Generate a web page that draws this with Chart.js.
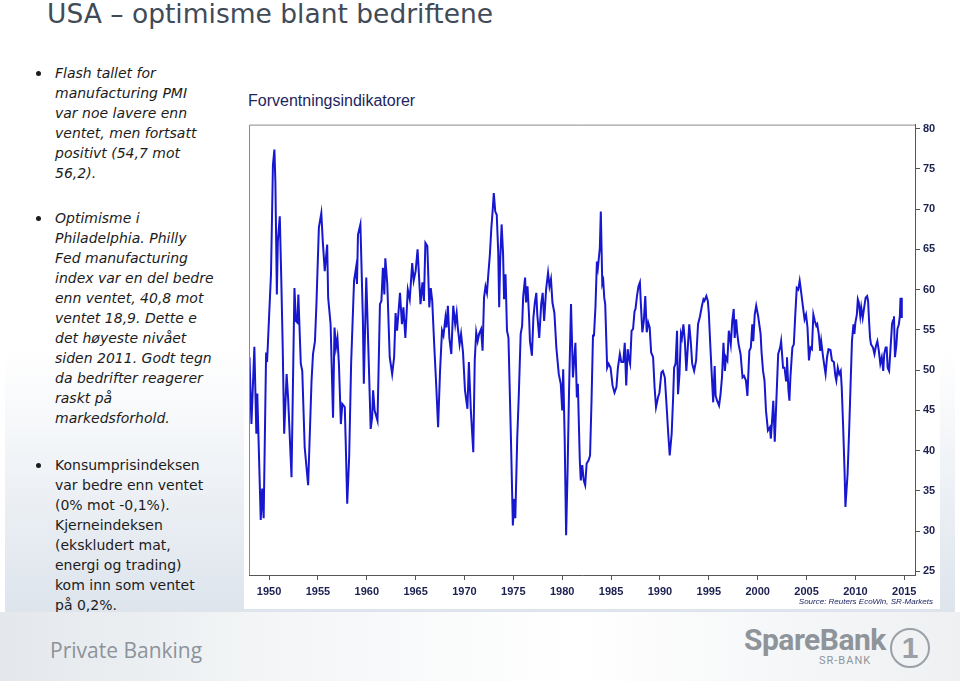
<!DOCTYPE html>
<html>
<head>
<meta charset="utf-8">
<script src="https://cdn.jsdelivr.net/npm/chart.js@4.4.1/dist/chart.umd.min.js"></script>
<style>
  html, body { margin: 0; padding: 0; }
  body { width: 960px; height: 681px; position: relative; overflow: hidden; background: #fff;
         font-family: "DejaVu Sans", Verdana, sans-serif; }
  #title { position: absolute; left: 47px; top: -2px; font-size: 26.5px; color: #414b58; white-space: nowrap; }
  #panel { position: absolute; left: 5px; top: 30px; width: 950px; height: 582px;
           background: linear-gradient(to bottom, #ffffff 0%, #ffffff 55%, #dde4ec 100%); }
  #chartbox { position: absolute; left: 244px; top: 86px; width: 696px; height: 523px; background: #fff; }
  .bul { position: absolute; left: 55px; font-size: 14px; line-height: 20px; color: #1c1c1c; white-space: nowrap; }
  .bul::before { content: ""; position: absolute; left: -19px; top: 8px; width: 5px; height: 5px;
                 border-radius: 50%; background: #1c1c1c; }
  .it { font-style: italic; }
  #ctitle { position: absolute; left: 248px; top: 92px; font-family: "Liberation Sans", Arial, sans-serif;
            font-size: 16px; color: #1d2660; white-space: nowrap; }
  #src { position: absolute; right: 27px; top: 597px; font-family: "Liberation Sans", Arial, sans-serif;
         font-size: 8px; font-style: italic; color: #1d2660; }
  #wrap { position: absolute; left: 245px; top: 115px; width: 700px; height: 500px; }
  #footer { position: absolute; left: 0; top: 612px; width: 960px; height: 69px;
            background: linear-gradient(to right, #e4e8ec 0%, #f4f6f7 30%, #ffffff 60%, #eef0f2 100%); }
  #pb { position: absolute; left: 50px; top: 636px; font-family: "Open Sans", sans-serif; font-size: 21px;
        color: #8c939b; white-space: nowrap; }
  #sb { position: absolute; left: 744px; top: 622px; font-family: "Liberation Sans Narrow", "Roboto", sans-serif;
        font-size: 30px; font-weight: bold; color: #8e949a; letter-spacing: -0.5px; white-space: nowrap; }
  #srb { position: absolute; left: 819px; top: 654px; font-family: "Roboto", sans-serif; font-size: 11px;
         color: #8e949a; letter-spacing: 1px; white-space: nowrap; }
  #logo { position: absolute; left: 890px; top: 628px; width: 36px; height: 36px; border-radius: 50%;
          border: 2px solid #9aa0a6; font-family: "Liberation Sans", sans-serif; font-weight: bold;
          font-size: 30px; color: #9aa0a6; text-align: center; line-height: 36px; }
</style>
</head>
<body>
<div id="panel"></div>
<div id="chartbox"></div>
<div id="title">USA – optimisme blant bedriftene</div>

<div class="bul it" style="top:63px">Flash tallet for<br>manufacturing PMI<br>var noe lavere enn<br>ventet, men fortsatt<br>positivt (54,7 mot<br>56,2).</div>
<div class="bul it" style="top:208px">Optimisme i<br>Philadelphia. Philly<br>Fed manufacturing<br>index var en del bedre<br>enn ventet, 40,8 mot<br>ventet 18,9. Dette e<br>det høyeste nivået<br>siden 2011. Godt tegn<br>da bedrifter reagerer<br>raskt på<br>markedsforhold.</div>
<div class="bul" style="top:455px">Konsumprisindeksen<br>var bedre enn ventet<br>(0% mot -0,1%).<br>Kjerneindeksen<br>(ekskludert mat,<br>energi og trading)<br>kom inn som ventet<br>på 0,2%.</div>

<div id="ctitle">Forventningsindikatorer</div>
<div id="wrap"><canvas id="chart" width="700" height="500"></canvas></div>
<div id="src">Source: Reuters EcoWin, SR-Markets</div>

<div id="footer"></div>
<div id="pb">Private Banking</div>
<div id="sb">SpareBank</div>
<div id="srb">SR-BANK</div>
<div id="logo">1</div>

<script>
// ISM manufacturing PMI (decimal year, index)
const years = [
  1948.0, 1948.2, 1948.5, 1948.7, 1948.8, 1949.15, 1949.3, 1949.45, 1949.7, 1949.8,
  1950.0, 1950.2, 1950.4, 1950.55, 1950.65, 1950.8, 1950.9, 1951.1, 1951.25, 1951.4,
  1951.55, 1951.8, 1951.95, 1952.3, 1952.6, 1952.75, 1952.9, 1953.0, 1953.25, 1953.4,
  1953.65, 1954.0, 1954.35, 1954.5, 1954.7, 1954.85, 1955.0, 1955.1, 1955.35, 1955.5,
  1955.7, 1955.95, 1956.05, 1956.3, 1956.55, 1956.7, 1956.85, 1957.0, 1957.15, 1957.35,
  1957.5, 1957.75, 1957.85, 1958.0, 1958.2, 1958.4, 1958.7, 1958.9, 1959.0, 1959.1,
  1959.35, 1959.6, 1959.7, 1959.95, 1960.2, 1960.4, 1960.55, 1960.65, 1960.8, 1961.1,
  1961.35, 1961.5, 1961.65, 1961.8, 1961.9, 1962.1, 1962.35, 1962.6, 1962.8, 1962.95,
  1963.1, 1963.4, 1963.6, 1963.75, 1963.95, 1964.2, 1964.4, 1964.65, 1964.8, 1965.0,
  1965.2, 1965.5, 1965.7, 1965.85, 1966.0, 1966.2, 1966.4, 1966.55, 1966.7, 1966.9,
  1967.1, 1967.3, 1967.5, 1967.7, 1967.85, 1968.05, 1968.15, 1968.3, 1968.45, 1968.65,
  1968.85, 1969.05, 1969.2, 1969.3, 1969.5, 1969.65, 1969.85, 1970.05, 1970.3, 1970.45,
  1970.65, 1970.9, 1971.05, 1971.2, 1971.35, 1971.5, 1971.7, 1971.85, 1972.0, 1972.15,
  1972.3, 1972.4, 1972.6, 1972.75, 1972.9, 1973.0, 1973.15, 1973.3, 1973.45, 1973.55,
  1973.65, 1973.8, 1973.95, 1974.05, 1974.2, 1974.35, 1974.5, 1974.75, 1974.95, 1975.1,
  1975.2, 1975.4, 1975.55, 1975.75, 1975.9, 1976.0, 1976.2, 1976.3, 1976.45, 1976.6,
  1976.7, 1976.9, 1977.05, 1977.2, 1977.35, 1977.45, 1977.65, 1977.85, 1978.0, 1978.15,
  1978.35, 1978.55, 1978.7, 1978.85, 1979.0, 1979.2, 1979.4, 1979.65, 1979.85, 1980.0,
  1980.1, 1980.25, 1980.4, 1980.55, 1980.7, 1980.9, 1981.1, 1981.2, 1981.35, 1981.5,
  1981.6, 1981.8, 1981.9, 1982.05, 1982.2, 1982.35, 1982.5, 1982.7, 1982.85, 1983.0,
  1983.15, 1983.25, 1983.4, 1983.55, 1983.65, 1983.85, 1983.95, 1984.1, 1984.2, 1984.3,
  1984.4, 1984.6, 1984.75, 1984.95, 1985.15, 1985.35, 1985.55, 1985.7, 1985.9, 1986.05,
  1986.25, 1986.4, 1986.55, 1986.7, 1986.8, 1986.95, 1987.1, 1987.25, 1987.4, 1987.5,
  1987.65, 1987.8, 1987.95, 1988.05, 1988.2, 1988.35, 1988.5, 1988.65, 1988.8, 1988.95,
  1989.1, 1989.3, 1989.45, 1989.6, 1989.8, 1989.95, 1990.15, 1990.3, 1990.5, 1990.65,
  1990.85, 1991.0, 1991.2, 1991.35, 1991.45, 1991.6, 1991.75, 1991.85, 1992.0, 1992.15,
  1992.25, 1992.4, 1992.55, 1992.7, 1992.85, 1993.0, 1993.15, 1993.3, 1993.5, 1993.7,
  1993.9, 1994.1, 1994.3, 1994.45, 1994.55, 1994.75, 1994.9, 1995.0, 1995.15, 1995.3,
  1995.45, 1995.6, 1995.7, 1995.85, 1996.05, 1996.2, 1996.35, 1996.5, 1996.65, 1996.75,
  1996.9, 1997.05, 1997.25, 1997.4, 1997.55, 1997.65, 1997.8, 1997.9, 1998.05, 1998.25,
  1998.45, 1998.6, 1998.8, 1998.95, 1999.15, 1999.3, 1999.45, 1999.55, 1999.7, 1999.85,
  2000.05, 2000.3, 2000.4, 2000.55, 2000.7, 2000.85, 2001.05, 2001.25, 2001.35, 2001.45,
  2001.6, 2001.75, 2001.9, 2002.1, 2002.3, 2002.4, 2002.6, 2002.75, 2002.9, 2003.0,
  2003.15, 2003.25, 2003.35, 2003.55, 2003.7, 2003.85, 2004.0, 2004.15, 2004.3, 2004.4,
  2004.6, 2004.8, 2004.95, 2005.1, 2005.25, 2005.4, 2005.55, 2005.7, 2005.85, 2006.0,
  2006.1, 2006.25, 2006.4, 2006.5, 2006.7, 2006.85, 2006.95, 2007.1, 2007.25, 2007.45,
  2007.6, 2007.8, 2007.95, 2008.05, 2008.2, 2008.35, 2008.5, 2008.6, 2008.75, 2008.9,
  2008.98, 2009.2, 2009.35, 2009.5, 2009.65, 2009.8, 2009.9, 2010.0, 2010.15, 2010.25,
  2010.35, 2010.5, 2010.6, 2010.75, 2010.9, 2011.05, 2011.2, 2011.3, 2011.4, 2011.5,
  2011.6, 2011.8, 2011.95, 2012.1, 2012.25, 2012.4, 2012.55, 2012.7, 2012.85, 2012.95,
  2013.1, 2013.2, 2013.3, 2013.45, 2013.6, 2013.75, 2013.85, 2013.95, 2014.05, 2014.2,
  2014.3, 2014.45, 2014.55, 2014.62, 2014.68, 2014.75
];
const pmi = [
  51.6, 43.3, 52.9, 42.1, 47.1, 31.4, 35.3, 31.6, 52.2, 51.0,
  56.5, 61.9, 75.5, 77.4, 73.4, 59.4, 66.0, 69.1, 61.5, 52.8,
  42.1, 49.5, 46.6, 36.7, 60.2, 56.1, 55.9, 59.4, 50.8, 49.9,
  40.4, 35.7, 48.7, 52.0, 53.6, 58.2, 63.9, 67.7, 69.5, 66.0,
  62.3, 65.6, 59.0, 55.7, 44.1, 55.3, 52.8, 54.0, 50.8, 43.3,
  45.8, 45.4, 40.9, 33.4, 39.2, 50.8, 61.1, 62.7, 60.7, 66.8,
  68.1, 56.5, 48.3, 61.5, 51.2, 42.7, 44.1, 47.5, 45.0, 43.7,
  58.2, 58.6, 62.7, 59.4, 63.9, 60.7, 51.6, 49.5, 51.6, 57.1,
  54.9, 59.6, 55.7, 57.8, 54.0, 60.0, 58.8, 63.3, 61.1, 62.3,
  65.0, 58.2, 60.9, 58.6, 65.8, 65.4, 57.8, 60.2, 58.6, 53.2,
  48.3, 42.9, 49.9, 54.9, 54.3, 56.5, 55.3, 58.0, 54.0, 52.0,
  58.0, 55.7, 57.1, 55.5, 53.2, 54.5, 52.2, 47.5, 45.2, 51.0,
  45.0, 39.8, 51.2, 54.7, 53.6, 54.5, 55.1, 52.4, 59.0, 60.4,
  59.6, 61.3, 64.4, 67.7, 70.1, 72.0, 69.7, 69.3, 64.8, 57.8,
  63.5, 68.1, 64.4, 58.8, 61.9, 54.9, 54.0, 41.7, 30.7, 34.0,
  31.6, 41.7, 46.6, 54.5, 55.5, 59.0, 61.5, 58.4, 60.4, 56.9,
  53.6, 51.8, 56.5, 58.4, 59.6, 56.9, 54.0, 58.2, 59.6, 56.1,
  60.0, 62.1, 60.4, 61.3, 58.4, 57.1, 52.8, 49.5, 48.3, 45.0,
  50.1, 41.7, 29.5, 37.5, 47.5, 58.2, 49.1, 50.8, 53.4, 46.6,
  48.3, 38.8, 36.3, 38.2, 36.3, 35.7, 38.4, 38.8, 39.4, 46.2,
  54.3, 54.3, 57.8, 63.5, 62.7, 65.2, 69.7, 60.7, 61.1, 59.0,
  58.2, 50.3, 50.8, 50.3, 48.1, 47.2, 47.9, 50.3, 52.0, 51.0,
  51.0, 53.4, 48.1, 52.6, 51.6, 50.8, 54.9, 55.1, 57.3, 57.6,
  59.2, 60.4, 60.9, 58.2, 54.7, 56.1, 59.2, 54.7, 55.9, 55.3,
  52.2, 51.6, 47.9, 45.4, 46.6, 47.2, 49.7, 49.9, 49.1, 46.2,
  42.1, 39.4, 42.1, 46.6, 50.3, 50.8, 54.9, 47.0, 49.5, 54.5,
  54.0, 55.7, 53.6, 49.9, 52.8, 55.7, 53.6, 50.8, 49.9, 51.2,
  55.7, 56.7, 58.0, 58.8, 58.6, 59.2, 58.6, 57.1, 53.2, 49.5,
  46.0, 50.5, 46.8, 46.2, 45.6, 47.0, 49.1, 53.4, 49.9, 51.6,
  51.2, 54.9, 53.2, 56.1, 57.6, 54.0, 56.3, 54.7, 53.2, 52.0,
  49.1, 49.3, 48.7, 46.8, 52.4, 52.8, 55.7, 53.6, 56.9, 58.0,
  56.7, 54.5, 52.2, 49.9, 48.7, 45.0, 42.5, 42.9, 41.5, 43.3,
  46.2, 41.1, 45.8, 52.0, 52.8, 53.6, 50.3, 50.3, 48.7, 51.6,
  47.5, 46.2, 49.1, 52.8, 53.2, 56.9, 60.2, 60.0, 61.1, 60.2,
  58.2, 56.3, 56.9, 55.3, 51.2, 52.8, 52.6, 56.9, 56.1, 55.5,
  55.7, 54.5, 52.4, 53.6, 51.6, 50.3, 49.5, 51.6, 52.6, 52.5,
  51.2, 51.0, 49.3, 48.7, 50.3, 49.5, 49.9, 47.9, 42.9, 37.1,
  33.0, 37.1, 42.1, 47.9, 53.6, 55.7, 54.5, 55.9, 56.9, 58.8,
  58.4, 56.7, 57.8, 56.5, 57.8, 59.0, 59.2, 58.6, 56.1, 54.0,
  53.2, 52.8, 52.0, 53.0, 53.6, 52.4, 50.8, 51.6, 49.9, 52.0,
  52.8, 52.8, 50.3, 49.9, 52.8, 55.7, 56.2, 56.7, 51.6, 53.2,
  55.1, 55.7, 56.7, 59.0, 56.6, 59.0
];
const yearTicks = [1950, 1955, 1960, 1965, 1970, 1975, 1980, 1985, 1990, 1995, 2000, 2005, 2010, 2015];
const valueTicks = [25, 30, 35, 40, 45, 50, 55, 60, 65, 70, 75, 80];

const tickFont = { family: "'Liberation Sans', Arial, sans-serif", size: 11, weight: "bold" };
const tickColor = "#1b2050";

// left and top edges of the plot frame (right/bottom come from the axes)
const framePlugin = {
  id: "frame",
  afterDraw(chart) {
    const { ctx, chartArea: a } = chart;
    ctx.save();
    ctx.strokeStyle = "#8a8a8a";
    ctx.lineWidth = 1;
    ctx.beginPath();
    ctx.moveTo(a.left + 0.5, a.bottom);
    ctx.lineTo(a.left + 0.5, a.top + 0.5);
    ctx.lineTo(a.right, a.top + 0.5);
    ctx.stroke();
    ctx.restore();
  }
};

new Chart(document.getElementById("chart"), {
  type: "line",
  data: {
    datasets: [{
      data: years.map((y, i) => ({ x: y, y: pmi[i] })),
      borderColor: "#1717cf",
      borderWidth: 2,
      pointRadius: 0,
      tension: 0,
      fill: false
    }]
  },
  options: {
    responsive: false,
    animation: false,
    layout: { padding: { left: 4, top: 8, right: 0, bottom: 0 } },
    plugins: { legend: { display: false }, tooltip: { enabled: false } },
    scales: {
      x: {
        type: "linear",
        min: 1947.95,
        max: 2016.1,
        afterBuildTicks: s => { s.ticks = yearTicks.map(v => ({ value: v })); },
        afterFit: s => { s.height = 40; },
        grid: { drawOnChartArea: false, drawTicks: true, tickLength: 5, color: "#555" },
        border: { display: true, color: "#555", width: 1 },
        ticks: { font: tickFont, color: tickColor, padding: 5, maxRotation: 0, autoSkip: false,
                 callback: v => String(v) }
      },
      y: {
        position: "right",
        min: 24.55,
        max: 80.5,
        afterBuildTicks: s => { s.ticks = valueTicks.map(v => ({ value: v })); },
        afterFit: s => { s.width = 30; },
        grid: { drawOnChartArea: false, drawTicks: true, tickLength: 5, color: "#555" },
        border: { display: true, color: "#555", width: 1 },
        ticks: { font: tickFont, color: tickColor, padding: 3, autoSkip: false,
                 callback: v => String(v) }
      }
    }
  },
  plugins: [framePlugin]
});
</script>
</body>
</html>
